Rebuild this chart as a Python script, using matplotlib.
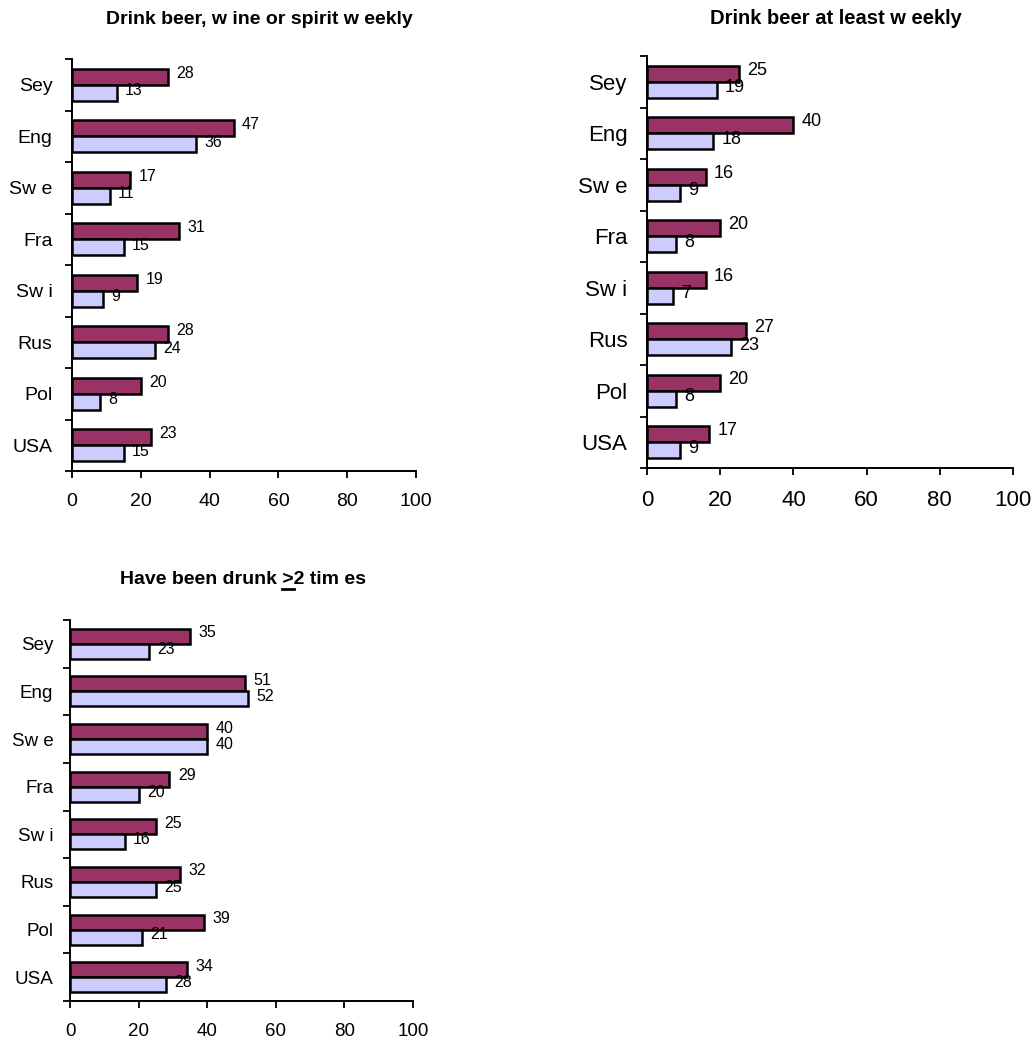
import matplotlib
matplotlib.use("Agg")
import matplotlib.pyplot as plt
import numpy as np
from matplotlib.lines import Line2D

plt.rcParams['font.family'] = ['Liberation Sans', 'DejaVu Sans']

categories = ["Sey", "Eng", "Sw e", "Fra", "Sw i", "Rus", "Pol", "USA"]

any_weekly_a = [28, 47, 17, 31, 19, 28, 20, 23]
any_weekly_b = [13, 36, 11, 15, 9, 24, 8, 15]

beer_weekly_a = [25, 40, 16, 20, 16, 27, 20, 17]
beer_weekly_b = [19, 18, 9, 8, 7, 23, 8, 9]

drunk_a = [35, 51, 40, 29, 25, 32, 39, 34]
drunk_b = [23, 52, 40, 20, 16, 25, 21, 28]

x_ticks = [0, 20, 40, 60, 80, 100]

titles = ["Drink beer, w ine or spirit w eekly",
          "Drink beer at least w eekly",
          "Have been drunk >2 tim es"]

COL_A = "#993366"
COL_B = "#CCCCFF"

W, H = 1036, 1039
fig = plt.figure(figsize=(W / 100, H / 100), dpi=100)


def px_axes(l, r, t, b):
    return fig.add_axes([l / W, 1 - b / H, (r - l) / W, (b - t) / H])


def draw(ax, a, b, tick_fs, val_fs, ypad, xpad):
    n = len(categories)
    y = np.arange(n)
    h = 0.315
    ax.barh(y - h / 2, a, height=h, color=COL_A, edgecolor="black", linewidth=1.8, zorder=3)
    ax.barh(y + h / 2, b, height=h, color=COL_B, edgecolor="black", linewidth=1.8, zorder=3)
    for yi, va_, vb_ in zip(y, a, b):
        ax.annotate(str(va_), (va_, yi - h / 2), xytext=(6, 2.5), textcoords="offset points",
                    ha="left", va="center", fontsize=val_fs, zorder=5)
        ax.annotate(str(vb_), (vb_, yi + h / 2), xytext=(6, 1.5), textcoords="offset points",
                    ha="left", va="center", fontsize=val_fs, zorder=5)
    ax.set_xlim(0, 100)
    ax.set_ylim(n - 0.5, -0.5)
    ax.set_xticks(x_ticks)
    ax.set_xticklabels([str(v) for v in x_ticks], fontsize=tick_fs)
    ax.set_yticks(y)
    ax.set_yticklabels(categories, fontsize=tick_fs)
    ax.set_yticks(np.arange(n + 1) - 0.5, minor=True)
    ax.tick_params(axis="y", which="major", length=0, pad=ypad)
    ax.tick_params(axis="y", which="minor", length=5, width=1.3, direction="out")
    ax.tick_params(axis="x", which="major", length=5, width=1.3, direction="out", pad=xpad)
    for s in ("top", "right"):
        ax.spines[s].set_visible(False)
    for s in ("left", "bottom"):
        ax.spines[s].set_linewidth(1.4)
        ax.spines[s].set_color("black")
    ax.patch.set_alpha(0)


ax1 = px_axes(72, 416, 59, 471)
draw(ax1, any_weekly_a, any_weekly_b, 14, 11.5, 14, 11)
ax2 = px_axes(647, 1013, 56, 468)
draw(ax2, beer_weekly_a, beer_weekly_b, 16, 13, 14, 11)
ax3 = px_axes(70, 413, 620, 1001)
draw(ax3, drunk_a, drunk_b, 13.5, 11.5, 12, 11)

TFS = 14
t1 = fig.text(259 / W, 1 - 19 / H, titles[0], ha="center", va="center", fontsize=TFS, fontweight="bold")
t2 = fig.text(836 / W, 1 - 18 / H, titles[1], ha="center", va="center", fontsize=TFS + 0.5, fontweight="bold")
t3 = fig.text(243 / W, 1 - 579 / H, titles[2], ha="center", va="center", fontsize=TFS, fontweight="bold")

# underline beneath ">" in the third title
fig.canvas.draw()
r = fig.canvas.get_renderer()
bb = t3.get_window_extent(r)
full = titles[2]
idx = full.index(">")
pre = fig.text(0, 0, full[:idx], fontsize=TFS, fontweight="bold")
gt = fig.text(0, 0, full[:idx + 1], fontsize=TFS, fontweight="bold")
w_pre = pre.get_window_extent(r).width
w_gt = gt.get_window_extent(r).width
pre.remove()
gt.remove()
x0 = bb.x0 + w_pre
x1 = bb.x0 + w_gt
yl = bb.y0 - 1
fig.add_artist(Line2D([x0 / W, x1 / W], [yl / H, yl / H], transform=fig.transFigure,
                      color="black", linewidth=2.0))

fig.savefig("out.png", dpi=100, facecolor="white")
